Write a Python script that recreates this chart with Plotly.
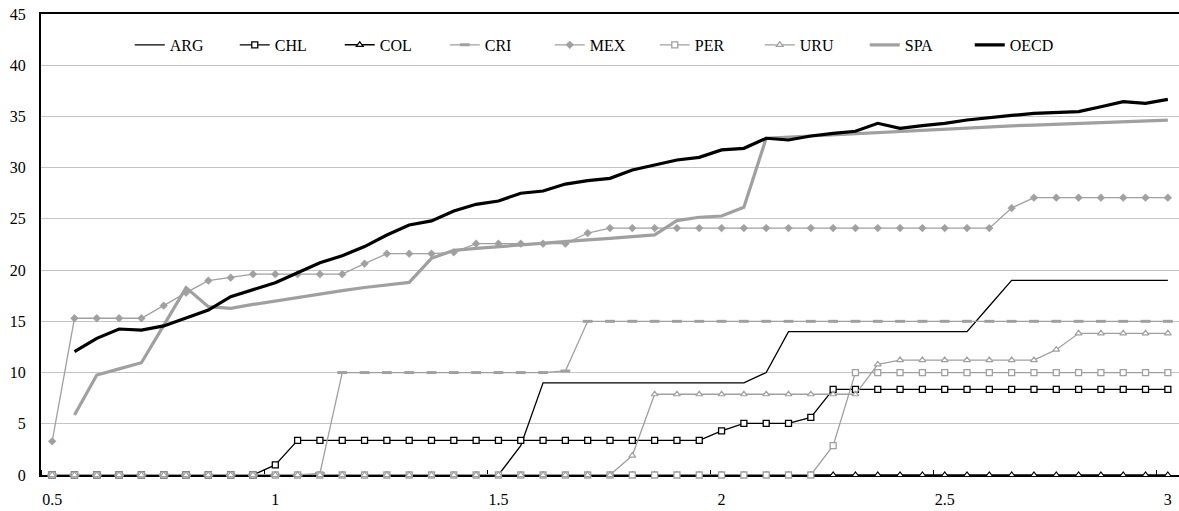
import plotly.graph_objects as go

x_vals = [0.5, 0.55, 0.6, 0.65, 0.7, 0.75, 0.8, 0.85, 0.9, 0.95,
          1.0, 1.05, 1.1, 1.15, 1.2, 1.25, 1.3, 1.35, 1.4, 1.45,
          1.5, 1.55, 1.6, 1.65, 1.7, 1.75, 1.8, 1.85, 1.9, 1.95,
          2.0, 2.05, 2.1, 2.15, 2.2, 2.25, 2.3, 2.35, 2.4, 2.45,
          2.5, 2.55, 2.6, 2.65, 2.7, 2.75, 2.8, 2.85, 2.9, 2.95, 3.0]

tick_vals = [0.5, 1, 1.5, 2, 2.5, 3]
tick_text = ["0.5", "1", "1.5", "2", "2.5", "3"]

ARG = [0]*21 + [2.86] + [9.0]*10 + [10.0] + [14.0]*9 + [16.5] + [19.0]*8
CHL = [0]*10 + [0.98] + [3.38]*19 + [4.3] + [5.04]*3 + [5.63] + [8.36]*16
COL = [0]*51
CRI = [0]*12 + [0.15] + [10.0]*10 + [10.15] + [15.0]*27
MEX = ([3.29] + [15.3]*4 + [16.53, 17.8, 18.97, 19.26] + [19.6]*5 + [20.63]
       + [21.6]*3 + [21.74] + [22.58]*5 + [23.62] + [24.1]*18 + [26.06] + [27.07]*7)
PER = [0]*35 + [2.86] + [10.0]*15
URU = [0]*26 + [1.9] + [7.88]*10 + [10.8] + [11.22]*7 + [12.23] + [13.83]*5
SPA = [None, 5.86, 9.76, 10.36, 10.96, 14.6, 18.29, 16.43, 16.27, 16.65,
       17.0, 17.35, 17.7, 18.0, 18.3, 18.55, 18.8, 21.15, 21.93, 22.12,
       22.3, 22.47, 22.63, 22.8, 22.95, 23.1, 23.25, 23.43, 24.83, 25.16,
       25.28, 26.13, 32.87, 32.98, 33.1, 33.22, 33.35, 33.47, 33.58, 33.7,
       33.8, 33.9, 34.0, 34.08, 34.16, 34.24, 34.32, 34.4, 34.48, 34.56, 34.65]
OECD = [None, 12.04, 13.34, 14.25, 14.15, 14.55, 15.36, 16.1, 17.4, 18.06,
        18.77, 19.75, 20.72, 21.4, 22.3, 23.43, 24.4, 24.8, 25.77, 26.42,
        26.75, 27.5, 27.72, 28.4, 28.73, 28.96, 29.77, 30.26, 30.75, 31.01,
        31.73, 31.89, 32.87, 32.7, 33.09, 33.35, 33.55, 34.33, 33.84, 34.1,
        34.33, 34.65, 34.9, 35.1, 35.3, 35.37, 35.47, 35.95, 36.44, 36.28, 36.67]

BLACK = "#000000"
GRAY = "#a0a0a0"

series = [
    ("ARG", ARG, dict(color=BLACK, width=1.3), None),
    ("CHL", CHL, dict(color=BLACK, width=1.3),
     dict(symbol="square", size=6, color="white", line=dict(color=BLACK, width=1.3))),
    ("COL", COL, dict(color=BLACK, width=1.5),
     dict(symbol="triangle-up", size=6, color="white", line=dict(color=BLACK, width=1.2))),
    ("CRI", CRI, dict(color=GRAY, width=1.3),
     dict(symbol="line-ew", size=7, color=GRAY, line=dict(color=GRAY, width=3))),
    ("MEX", MEX, dict(color=GRAY, width=1.3),
     dict(symbol="diamond", size=6, color=GRAY, line=dict(color=GRAY, width=0.5))),
    ("PER", PER, dict(color=GRAY, width=1.3),
     dict(symbol="square", size=6, color="white", line=dict(color=GRAY, width=1.3))),
    ("URU", URU, dict(color=GRAY, width=1.3),
     dict(symbol="triangle-up", size=6, color="white", line=dict(color=GRAY, width=1.2))),
    ("SPA", SPA, dict(color=GRAY, width=3.2), None),
    ("OECD", OECD, dict(color=BLACK, width=3.2), None),
]

fig = go.Figure()
for name, vals, line, marker in series:
    kw = dict(x=x_vals, y=vals, name=name, line=line, cliponaxis=False,
              mode="lines+markers" if marker else "lines")
    if marker:
        kw["marker"] = marker
    fig.add_trace(go.Scatter(**kw))

FONT = ("Liberation Serif, Tinos, Nimbus Roman, Nimbus Roman No9 L, Times, "
        "FreeSerif, Noto Serif, DejaVu Serif, serif")
fig.update_layout(
    width=1179, height=511,
    margin=dict(l=41, r=0, t=14, b=36, autoexpand=False),
    paper_bgcolor="white", plot_bgcolor="white",
    font=dict(family=FONT, size=16, color="black"),
    showlegend=True,
    legend=dict(orientation="h", x=0.078, xanchor="left", y=0.933, yanchor="middle",
                entrywidth=60, entrywidthmode="pixels",
                font=dict(family=FONT, size=16, color="black"),
                bgcolor="rgba(0,0,0,0)", traceorder="normal"),
    xaxis=dict(range=[0.475, 3.025], tickmode="array", tickvals=tick_vals, ticktext=tick_text,
               showgrid=False, zeroline=False, showline=True, linecolor="black", linewidth=1.5,
               mirror=True, ticks="", ticklabelstandoff=9, layer="below traces", automargin=False,
               tickfont=dict(family=FONT, size=16, color="black"),
               minor=dict(tickmode="array", tickvals=[0.475, 0.975, 1.475, 1.975, 2.475, 2.975],
                          ticks="inside", ticklen=5, tickcolor="black", tickwidth=1, showgrid=False)),
    yaxis=dict(range=[0, 45], dtick=5, tick0=0, showgrid=True, gridcolor="#c4c4c4", gridwidth=1,
               zeroline=False, showline=True, linecolor="black", linewidth=2, automargin=False,
               tickfont=dict(family=FONT, size=16, color="black"),
               ticks="", ticklabelstandoff=10, layer="below traces"),
)

fig.write_html("out.html")
